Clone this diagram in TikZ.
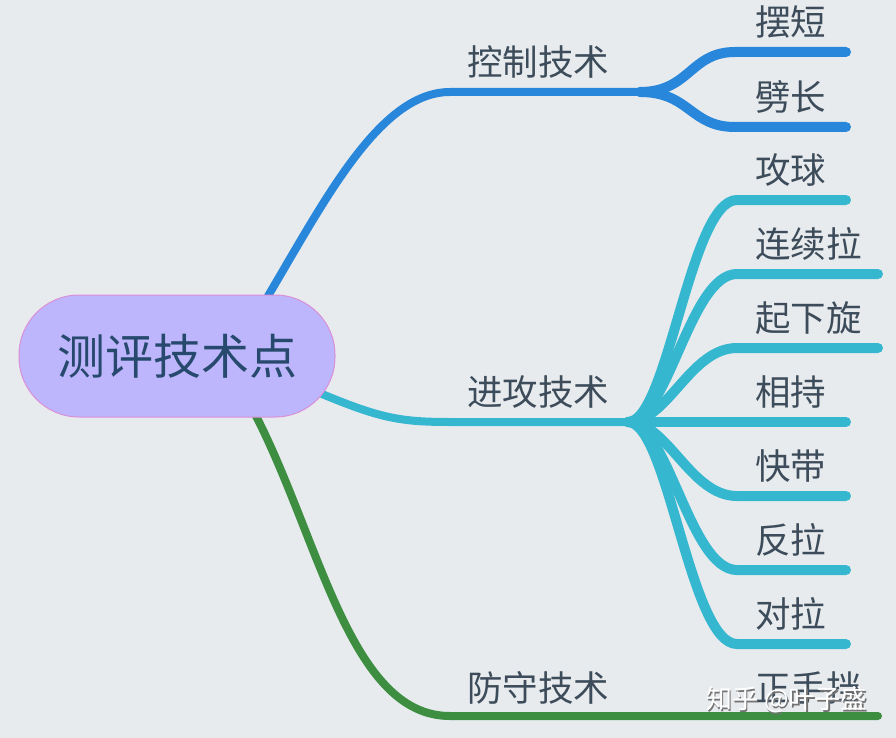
\documentclass[tikz,border=0pt]{standalone}
\usepackage{fontspec}
\newfontfamily\cjk{Noto Sans CJK SC}
\definecolor{bg}{HTML}{E8EBEE}
\definecolor{cblue}{HTML}{2887DA}
\definecolor{ccyan}{HTML}{35B7CF}
\definecolor{cgreen}{HTML}{3D8E40}
\definecolor{nodefill}{HTML}{BDB6FD}
\definecolor{nodeborder}{HTML}{DA8FD8}
\definecolor{labeltext}{HTML}{3D4C5A}
\definecolor{centertext}{HTML}{27496D}
\tikzset{
  lbl/.style={font=\cjk\fontsize{35.5}{38}\selectfont, text=labeltext, anchor=west, inner sep=0pt},
  mainline/.style={line width=8pt, line cap=round},
  subline/.style={line width=10pt, line cap=round},
}
\begin{document}
\begin{tikzpicture}[x=1pt,y=-1pt]
\fill[bg] (0,0) rectangle (896,738);
\useasboundingbox (0,0) rectangle (896,738);

% coordinates
\coordinate (bA) at (268,296);
\coordinate (bB) at (450,92);
\coordinate (bF) at (640,92);
\coordinate (cA) at (322,394);
\coordinate (cB) at (450,422);
\coordinate (cF) at (628,422);
\coordinate (gA) at (255,414);
\coordinate (gB) at (450,716);
\coordinate (gE) at (878,716);

% main branches
\draw[mainline, cblue] (bA) .. controls (325,200) and (380,92) .. (bB) -- (bF);
\draw[mainline, ccyan] (cA) .. controls (380,418) and (400,422) .. (cB) -- (cF);
\draw[mainline, cgreen] (gA) .. controls (320,540) and (350,716) .. (gB) -- (gE);

% blue children
\coordinate (s1) at (735,52);  \coordinate (e1) at (846,52);
\coordinate (s2) at (735,127); \coordinate (e2) at (846,127);
\draw[subline, cblue] (bF) .. controls (690,92) and (690,52) .. (s1) -- (e1);
\draw[subline, cblue] (bF) .. controls (690,92) and (690,127) .. (s2) -- (e2);

% cyan children
\foreach \y/\x in {200/846, 274/878, 348/878, 422/846, 496/846, 570/846, 644/846}{
  \draw[subline, ccyan] (cF) .. controls (668,422) and (690,\y) .. (737,\y) -- (\x,\y);
}

% central node
\node[draw=nodeborder, line width=1pt, fill=nodefill, rounded corners=60pt,
      minimum width=316pt, minimum height=122pt, inner sep=0pt,
      font=\cjk\fontsize{48}{52}\selectfont, text=centertext] (root) at (177,356) {测评技术点};

% main labels
\node[lbl] (l1) at (467,62) {控制技术};
\node[lbl] (l2) at (467,392) {进攻技术};
\node[lbl] (l3) at (467,688) {防守技术};

% child labels
\node[lbl] (k1) at (755,22) {摆短};
\node[lbl] (k2) at (755,97) {劈长};
\node[lbl] (a1) at (755,170) {攻球};
\node[lbl] (a2) at (755,244) {连续拉};
\node[lbl] (a3) at (755,318) {起下旋};
\node[lbl] (a4) at (755,392) {相持};
\node[lbl] (a5) at (755,466) {快带};
\node[lbl] (a6) at (755,540) {反拉};
\node[lbl] (a7) at (755,614) {对拉};
\node[lbl] (d1) at (755,688) {正手挡};

% watermark
\node[font=\cjk\fontsize{26}{28}\selectfont, text=black!55, anchor=west, inner sep=0pt] (wms) at (707.5,701.5) {知乎 @叶子盛};
\node[font=\cjk\fontsize{26}{28}\selectfont, text=white, anchor=west, inner sep=0pt] (wm) at (706,700) {知乎 @叶子盛};
\end{tikzpicture}
\end{document}
